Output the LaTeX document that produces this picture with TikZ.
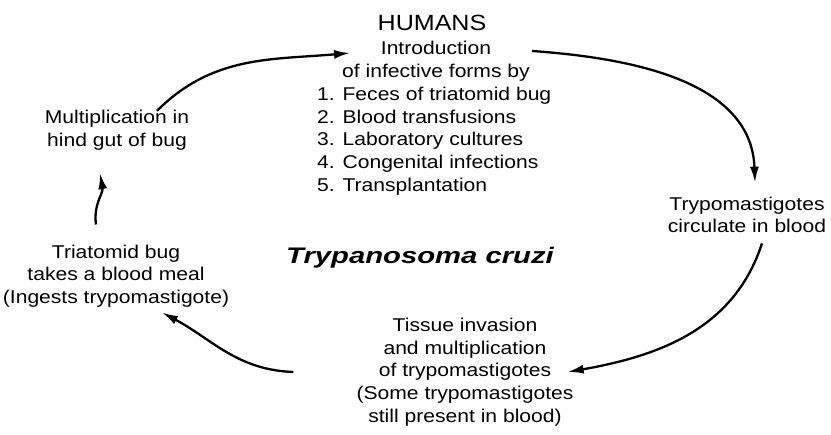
\documentclass[tikz,border=0pt]{standalone}
\usepackage{fontspec}
\setmainfont{Liberation Sans}[FakeStretch=1.14]
\newfontfamily\titlefont{Liberation Sans}[FakeStretch=1.3]
\usepackage{tikz}
\usetikzlibrary{arrows.meta}

\begin{document}
\begin{tikzpicture}[x=1pt, y=1pt,
        % Define the styles for the stages and the cycle arrows
        stage/.style={align=center, inner sep=0pt, font=\fontsize{18.5}{22.7}\selectfont},
        cyc/.style={-{Latex[length=16pt, width=9pt]}, line width=2.3pt}]

        \useasboundingbox (0,0) rectangle (831,-435);

        % 1. Place the stages of the cycle
        \node[stage, font=\fontsize{22}{26}\selectfont] (humans) at (432,-23) {HUMANS};
        \node[stage] (intro) at (436,-61) {Introduction\\of infective forms by};
        \node[stage, align=left, anchor=west] (routes) at (317,-141) {1. Feces of triatomid bug\\2. Blood transfusions\\3. Laboratory cultures\\4. Congenital infections\\5. Transplantation};
        \node[stage] (circ) at (747,-215) {Trypomastigotes\\circulate in blood};
        \node[stage] (tissue) at (465,-372) {Tissue invasion\\and multiplication\\of trypomastigotes\\(Some trypomastigotes\\still present in blood)};
        \node[stage] (meal) at (116,-276) {Triatomid bug\\takes a blood meal\\(Ingests trypomastigote)};
        \node[stage] (mult) at (117,-130) {Multiplication in\\hind gut of bug};

        % 2. The name of the parasite in the middle
        \node[font=\titlefont\fontsize{22.5}{26}\selectfont\bfseries\itshape, inner sep=0pt] (name) at (420,-258) {Trypanosoma cruzi};

        % 3. Draw the arrows of the cycle
        \draw[cyc] ([shift={(40pt,-1pt)}]mult.north) to[out=45, in=185] ([shift={(8pt,8pt)}]intro.west);
        \draw[cyc] ([shift={(2pt,10pt)}]intro.east) to[out=-4, in=92] ([shift={(8pt,14pt)}]circ.north);
        \draw[cyc] ([shift={(15pt,-10pt)}]circ.south) to[out=-108, in=10] ([xshift=-6pt]tissue.east);
        \draw[cyc] ([xshift=-63pt]tissue.west) to[out=178, in=-28] ([shift={(46pt,-5pt)}]meal.south);
        \draw[cyc] ([shift={(-20pt,20pt)}]meal.north) to[out=98, in=-80] ([shift={(-17pt,-23pt)}]mult.south);

    \end{tikzpicture}
\end{document}
